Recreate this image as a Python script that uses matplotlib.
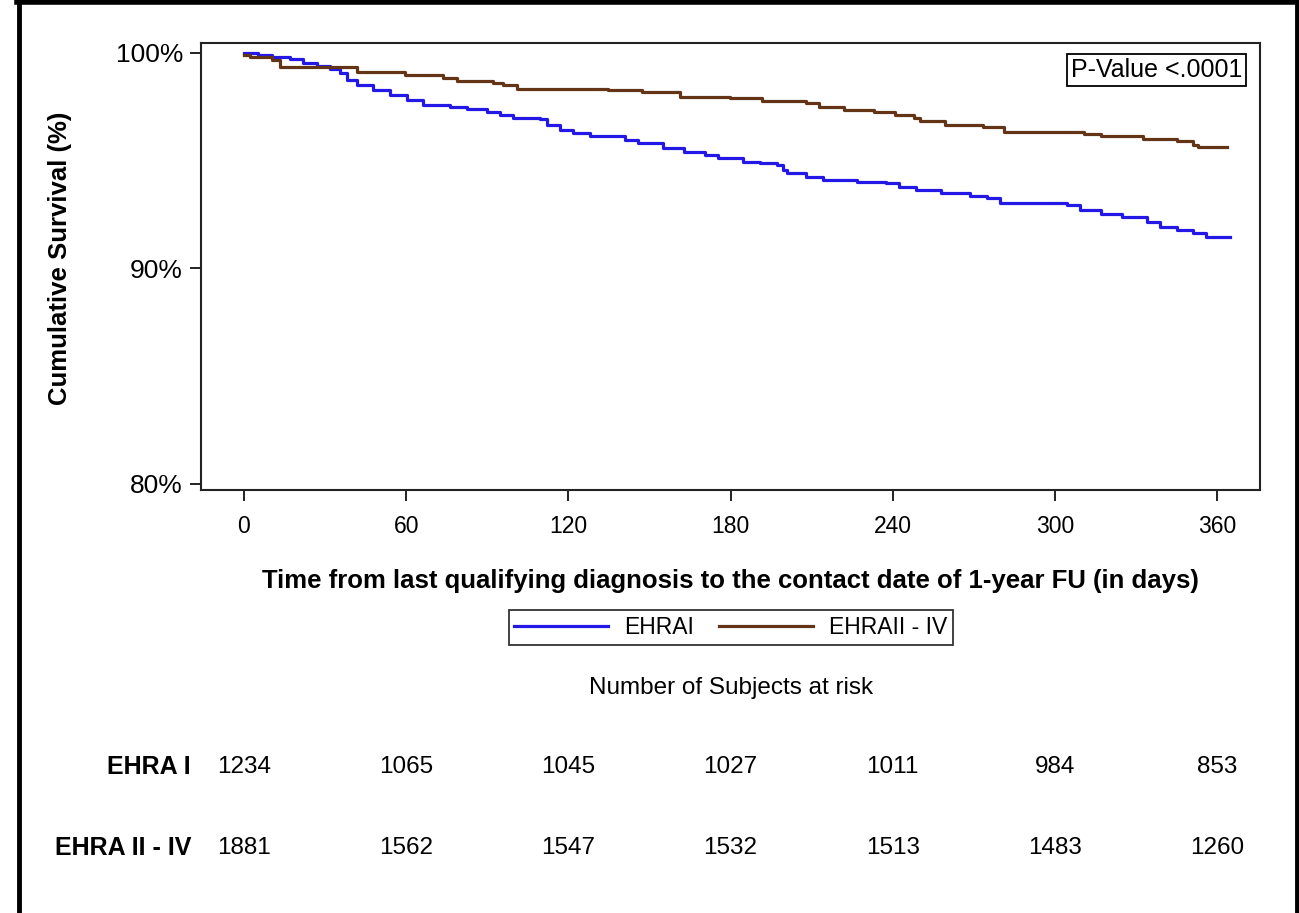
import matplotlib
matplotlib.use("Agg")
import matplotlib.pyplot as plt
import matplotlib.transforms as mtransforms
from matplotlib.lines import Line2D

# ---------------- data ----------------
ehra1_days = [0, 5.2, 10.4, 17.0, 21.8, 27.0, 31.8, 35.5, 38.1, 41.8, 47.7, 54.0, 60.3, 66.2,
              76.2, 82.5, 89.9, 94.7, 99.5, 109.5, 112.1, 116.9, 121.7, 128.0, 141.0, 145.8,
              155.0, 162.8, 170.6, 175.4, 184.6, 190.9, 197.2, 199.4, 200.9, 207.9, 214.2,
              226.8, 237.5, 242.3, 248.6, 257.9, 268.6, 274.9, 279.7, 304.5, 309.3, 317.1,
              324.8, 334.1, 338.9, 345.2, 351.1, 355.9, 364.8]
ehra1_surv = [100.0, 99.91, 99.80, 99.71, 99.52, 99.40, 99.24, 99.06, 98.75, 98.52, 98.28, 98.05,
              97.82, 97.59, 97.51, 97.40, 97.28, 97.12, 97.00, 96.92, 96.66, 96.43, 96.30, 96.16,
              95.96, 95.81, 95.58, 95.42, 95.27, 95.11, 94.96, 94.88, 94.80, 94.57, 94.45, 94.26,
              94.11, 94.03, 93.95, 93.80, 93.64, 93.49, 93.38, 93.26, 93.03, 92.95, 92.71, 92.53,
              92.40, 92.17, 91.94, 91.79, 91.66, 91.45, 91.45]

ehra2_days = [0, 2.2, 10.4, 13.3, 41.8, 59.6, 73.6, 78.8, 92.1, 95.8, 101.0, 134.7, 147.3, 161.3,
              179.8, 191.7, 207.9, 212.7, 222.0, 233.1, 240.9, 247.9, 250.1, 259.4, 273.4, 281.2,
              310.8, 317.1, 332.6, 345.2, 351.1, 352.9, 363.7]
ehra2_surv = [99.91, 99.80, 99.68, 99.34, 99.13, 98.98, 98.83, 98.70, 98.62, 98.52, 98.33, 98.28,
              98.18, 97.97, 97.90, 97.79, 97.69, 97.48, 97.36, 97.25, 97.12, 96.97, 96.86, 96.66,
              96.55, 96.35, 96.24, 96.15, 96.00, 95.92, 95.73, 95.62, 95.62]

series_labels = ["EHRAI", "EHRAII - IV"]
risk_row_labels = ["EHRA I", "EHRA II - IV"]
risk_times = [0, 60, 120, 180, 240, 300, 360]
risk_ehra1 = [1234, 1065, 1045, 1027, 1011, 984, 853]
risk_ehra2 = [1881, 1562, 1547, 1532, 1513, 1483, 1260]
x_ticks = [0, 60, 120, 180, 240, 300, 360]
y_ticks = [80, 90, 100]
y_ticklabels = ["80%", "90%", "100%"]
p_value_text = "P-Value <.0001"

# ---------------- style ----------------
plt.rcParams['font.family'] = ['Liberation Sans', 'DejaVu Sans']
W, H = 1299, 913
fig = plt.figure(figsize=(W / 100, H / 100), dpi=100)
fig.patch.set_facecolor("white")

def fx(px):
    return px / W

def fy(py):
    return 1 - py / H

ax = fig.add_axes([fx(201), fy(490), fx(1260) - fx(201), fy(43) - fy(490)])
blue = "#2418e6"
brown = "#643416"
ax.step(ehra1_days, ehra1_surv, where="post", color=blue, lw=2.3, label=series_labels[0])
ax.step(ehra2_days, ehra2_surv, where="post", color=brown, lw=2.3, label=series_labels[1])

ax.set_xlim(-15.9, 375.9)
ax.set_ylim(79.72, 100.46)
ax.set_xticks(x_ticks)
ax.set_xticklabels([str(t) for t in x_ticks])
ax.set_yticks(y_ticks)
ax.set_yticklabels(y_ticklabels)
for s in ax.spines.values():
    s.set_linewidth(1.5)
    s.set_color("#222222")
ax.tick_params(axis="both", direction="out", length=8, width=1.4, colors="#222222",
               labelcolor="black")
ax.tick_params(axis="x", pad=10, labelsize=16.5)
ax.tick_params(axis="y", pad=5, labelsize=19)

ax.set_xlabel("Time from last qualifying diagnosis to the contact date of 1-year FU (in days)",
              fontsize=18.5, fontweight="bold", labelpad=22)
fig.text(fx(60), fy(258), "Cumulative Survival (%)", rotation=90, fontsize=18.5,
         fontweight="bold", ha="center", va="center")

ax.text(0.9835, 0.967, p_value_text, transform=ax.transAxes, ha="right", va="top", fontsize=18,
        bbox=dict(boxstyle="square,pad=0.15", fc="white", ec="black", lw=1.3))

leg = fig.legend(loc="center", bbox_to_anchor=(fx(731), fy(627.5)), ncol=2, fontsize=16.5,
                 frameon=True, fancybox=False, edgecolor="black", handlelength=4.1,
                 borderpad=0.25, columnspacing=1.1, handletextpad=0.7)
leg.get_frame().set_linewidth(1.3)

fig.text(fx(731), fy(688), "Number of Subjects at risk", fontsize=17.5, ha="center", va="center")

trans = mtransforms.blended_transform_factory(ax.transData, fig.transFigure)
for rowy, lab, vals in [(767, risk_row_labels[0], risk_ehra1), (848, risk_row_labels[1], risk_ehra2)]:
    fig.text(fx(191), fy(rowy), lab, fontsize=18, fontweight="bold", ha="right", va="center")
    for t, v in zip(risk_times, vals):
        ax.text(t, fy(rowy), str(v), transform=trans, fontsize=17.5, ha="center", va="center",
                clip_on=False)

# outer frame
fig.add_artist(Line2D([fx(19), fx(19)], [0, 1], color="black", lw=3.5, transform=fig.transFigure))
fig.add_artist(Line2D([fx(17), fx(1299)], [fy(2), fy(2)], color="black", lw=4, transform=fig.transFigure))
fig.add_artist(Line2D([fx(1297), fx(1297)], [0, 1], color="black", lw=3.5, transform=fig.transFigure))

fig.savefig("out.png", dpi=100)
